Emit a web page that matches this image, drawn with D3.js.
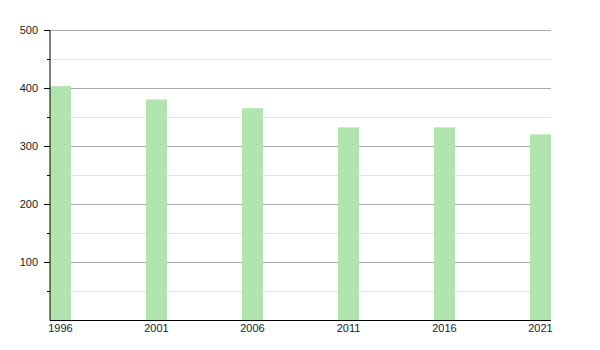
<!DOCTYPE html>
<html>
<head>
<meta charset="utf-8">
<script src="https://cdn.jsdelivr.net/npm/d3@7"></script>
<style>
  body { margin: 0; background: #fff; overflow: hidden; }
  svg { display: block; }
  text { font-family: "Liberation Sans", Arial, sans-serif; font-size: 11px; fill: #1a1a1a; }
</style>
</head>
<body>
<svg id="chart"></svg>
<script>
const years = [1996, 2001, 2006, 2011, 2016, 2021];
const population = [404, 381, 366, 333, 333, 321];
const majorTicks = [100, 200, 300, 400, 500];
const minorTicks = [50, 150, 250, 350, 450];

const width = 600;
const height = 350;
const margin = { top: 30.5, right: 49, bottom: 29.5, left: 50 };
const barW = 21;

const svg = d3.select("#chart")
  .attr("width", width)
  .attr("height", height);

const x = d3.scaleLinear()
  .domain([1996, 2021])
  .range([margin.left, 530]);

const y = d3.scaleLinear()
  .domain([0, 500])
  .range([height - margin.bottom, margin.top]);

const defs = svg.append("defs");
defs.append("filter")
  .attr("id", "soft")
  .attr("x", "-10%").attr("y", "-10%")
  .attr("width", "120%").attr("height", "120%")
  .append("feGaussianBlur")
  .attr("stdDeviation", 0.6);

// grille secondaire
svg.selectAll(".minor")
  .data(minorTicks)
  .join("line")
  .attr("class", "minor")
  .attr("x1", margin.left)
  .attr("x2", width - margin.right)
  .attr("y1", d => y(d))
  .attr("y2", d => y(d))
  .attr("stroke", "#e2e2e2")
  .attr("stroke-width", 1);

// grille principale
svg.selectAll(".major")
  .data(majorTicks)
  .join("line")
  .attr("class", "major")
  .attr("x1", margin.left)
  .attr("x2", width - margin.right)
  .attr("y1", d => y(d))
  .attr("y2", d => y(d))
  .attr("stroke", "#ababab")
  .attr("stroke-width", 1);

// barres
svg.selectAll(".bar")
  .data(years)
  .join("rect")
  .attr("class", "bar")
  .attr("x", d => x(d))
  .attr("width", barW)
  .attr("y", (d, i) => y(population[i]))
  .attr("height", (d, i) => y(0) - y(population[i]))
  .attr("fill", "#b2e4b0")
  .attr("filter", "url(#soft)");

// axe vertical
const yAxis = svg.append("g")
  .attr("transform", `translate(${margin.left},0)`);
yAxis.append("line")
  .attr("y1", y(500)).attr("y2", y(0))
  .attr("stroke", "#000");
yAxis.selectAll(".tick-major")
  .data(majorTicks)
  .join("line")
  .attr("class", "tick-major")
  .attr("x1", -6).attr("x2", 0)
  .attr("y1", d => y(d)).attr("y2", d => y(d))
  .attr("stroke", "#000");
yAxis.selectAll(".tick-minor")
  .data(minorTicks)
  .join("line")
  .attr("class", "tick-minor")
  .attr("x1", -3).attr("x2", 0)
  .attr("y1", d => y(d)).attr("y2", d => y(d))
  .attr("stroke", "#000");
yAxis.selectAll(".ylabel")
  .data(majorTicks)
  .join("text")
  .attr("class", "ylabel")
  .attr("x", -12)
  .attr("y", d => y(d))
  .attr("dy", "0.35em")
  .attr("text-anchor", "end")
  .text(d => d);

// axe horizontal
svg.append("line")
  .attr("x1", margin.left)
  .attr("x2", width - margin.right)
  .attr("y1", y(0)).attr("y2", y(0))
  .attr("stroke", "#000");
svg.selectAll(".year")
  .data(years)
  .join("text")
  .attr("class", "year")
  .attr("x", d => x(d) + barW / 2)
  .attr("y", y(0) + 11)
  .attr("text-anchor", "middle")
  .text(d => d);
</script>
</body>
</html>
